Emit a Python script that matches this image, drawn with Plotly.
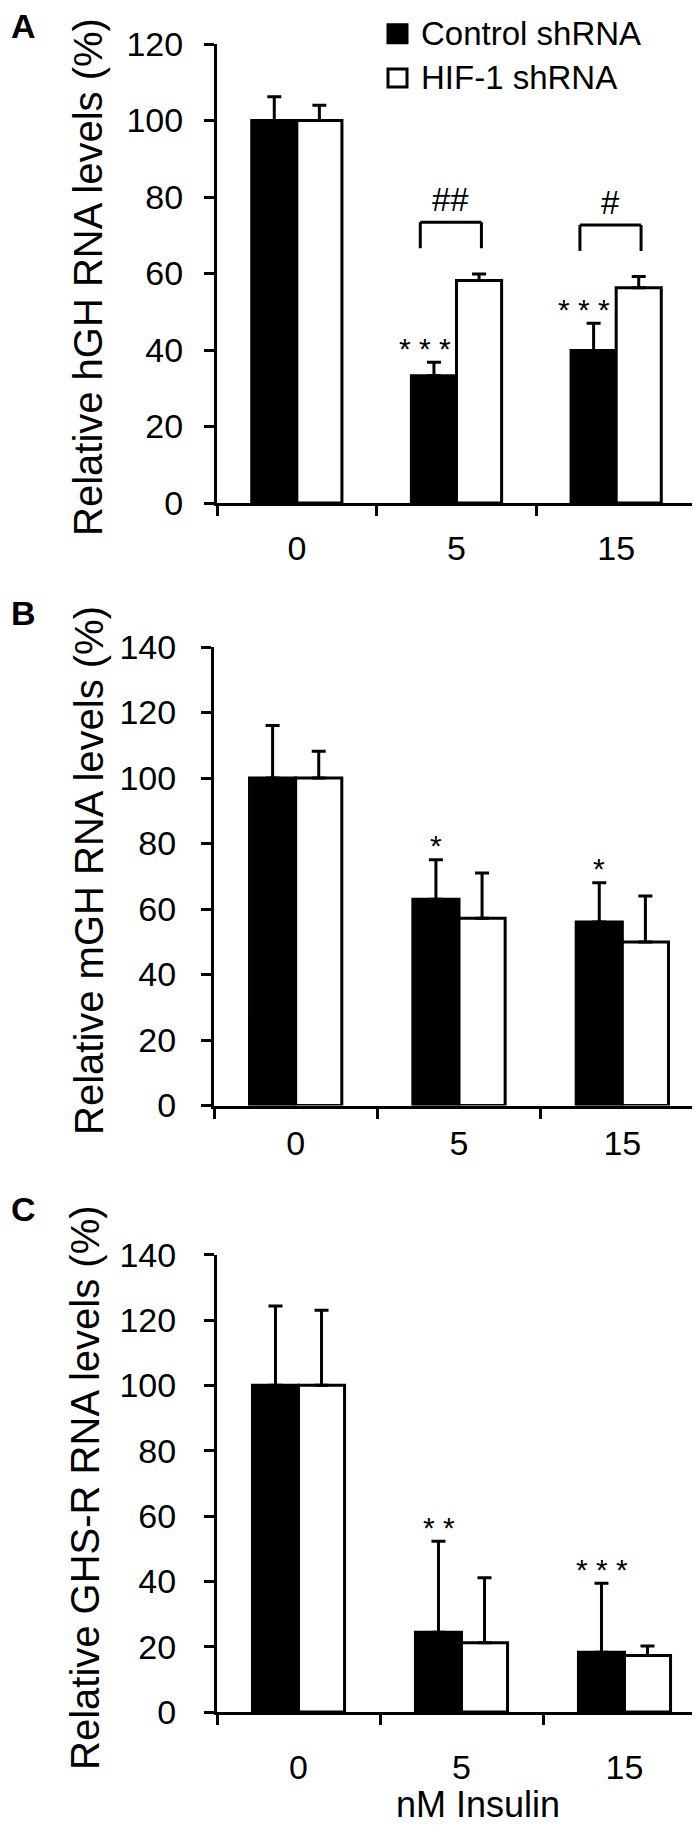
import plotly.graph_objects as go

# ---------------- data ----------------
doses = ["0", "5", "15"]
series_names = ["Control shRNA", "HIF-1 shRNA"]

hgh_control = [100, 33.3, 39.9]
hgh_control_err = [6.2, 3.5, 7.1]
hgh_hif = [100, 58.2, 56.3]
hgh_hif_err = [4.0, 1.7, 2.9]

mgh_control = [100, 63.0, 56.0]
mgh_control_err = [16.0, 12.0, 12.0]
mgh_hif = [100, 57.2, 49.9]
mgh_hif_err = [8.2, 13.8, 14.1]

ghsr_control = [100, 24.4, 18.3]
ghsr_control_err = [24.3, 27.9, 21.1]
ghsr_hif = [100, 21.2, 17.3]
ghsr_hif_err = [23.0, 19.9, 2.9]

hgh_stars = ["", "***", "***"]
hgh_hash = ["", "##", "#"]
mgh_stars = ["", "*", "*"]
ghsr_stars = ["", "**", "***"]

y_titles = ["Relative hGH RNA levels (%)",
            "Relative mGH RNA levels (%)",
            "Relative GHS-R RNA levels (%)"]
panel_letters = ["A", "B", "C"]
x_title = "nM Insulin"

# ---------------- layout constants ----------------
W, H = 700, 1825
FONT = "Arial, Liberation Sans, sans-serif"

panels = [
    dict(ctrl=hgh_control, ctrl_err=hgh_control_err, hif=hgh_hif, hif_err=hgh_hif_err,
         stars=hgh_stars, hashes=hgh_hash, ymax=120, xpx=(209, 688), ypx=(36, 495),
         title_x=80, title_y=269, letter_y=18, star_dx=-0.2, xlab_off=13, ylab_off=14),
    dict(ctrl=mgh_control, ctrl_err=mgh_control_err, hif=mgh_hif, hif_err=mgh_hif_err,
         stars=mgh_stars, hashes=None, ymax=140, xpx=(206, 696), ypx=(639, 1097.5),
         title_x=81, title_y=863, letter_y=605, star_dx=-0.14, xlab_off=6, ylab_off=18),
    dict(ctrl=ghsr_control, ctrl_err=ghsr_control_err, hif=ghsr_hif, hif_err=ghsr_hif_err,
         stars=ghsr_stars, hashes=None, ymax=140, xpx=(209, 698), ypx=(1246.7, 1704),
         title_x=77, title_y=1480, letter_y=1201, star_dx=-0.14, xlab_off=23, ylab_off=21),
]

BARGAP = 0.435

fig = go.Figure()
shapes = []
annotations = []


def px_x(p):
    return p / W


def px_y(p):
    return 1 - p / H


for i, pn in enumerate(panels):
    sfx = "" if i == 0 else str(i + 1)
    xa, ya = "x" + sfx, "y" + sfx
    for name, vals, errs, col in [(series_names[0], pn["ctrl"], pn["ctrl_err"], "black"),
                                  (series_names[1], pn["hif"], pn["hif_err"], "white")]:
        fig.add_trace(go.Bar(
            x=doses, y=vals, name=name, showlegend=False,
            marker=dict(color=col, line=dict(color="black", width=3)),
            error_y=dict(type="data", symmetric=False, array=errs,
                         arrayminus=[0] * len(errs), color="black",
                         thickness=3, width=7),
            xaxis=xa, yaxis=ya,
        ))
    xdom = [px_x(pn["xpx"][0]), px_x(pn["xpx"][1])]
    ydom = [px_y(pn["ypx"][1]), px_y(pn["ypx"][0])]
    axis_common = dict(showline=True, linecolor="black", linewidth=3, ticks="outside",
                       ticklen=10, tickwidth=3, tickcolor="black", showgrid=False,
                       zeroline=False, automargin=False,
                       tickfont=dict(family=FONT, size=34, color="black"))
    fig.update_layout(**{
        "xaxis" + sfx: dict(axis_common, domain=xdom, type="category", tickson="boundaries",
                            anchor=ya, ticklabelstandoff=pn["xlab_off"]),
        "yaxis" + sfx: dict(axis_common, domain=ydom, range=[0, pn["ymax"]],
                            tickmode="linear", tick0=0, dtick=20, anchor=xa,
                            ticklabelstandoff=pn["ylab_off"]),
    })

    # significance stars above control bars
    for j, s in enumerate(pn["stars"]):
        if s:
            annotations.append(dict(
                x=j + pn["star_dx"], y=pn["ctrl"][j] + pn["ctrl_err"][j], xref=xa, yref=ya,
                text=" ".join(s), showarrow=False, yanchor="middle", yshift=14,
                font=dict(family=FONT, size=30, color="black")))
    # brackets with hash marks
    if pn["hashes"]:
        for j, h in enumerate(pn["hashes"]):
            if h:
                top = pn["hif"][j] + pn["hif_err"][j] + 13.5
                x0, x1 = j - 0.227, j + 0.156
                line = dict(color="black", width=3)
                shapes.append(dict(type="line", xref=xa, yref=ya, x0=x0, x1=x1, y0=top, y1=top, line=line))
                shapes.append(dict(type="line", xref=xa, yref=ya, x0=x0, x1=x0, y0=top, y1=top - 6.8, line=line))
                shapes.append(dict(type="line", xref=xa, yref=ya, x0=x1, x1=x1, y0=top, y1=top - 6.8, line=line))
                annotations.append(dict(
                    x=(x0 + x1) / 2, y=top, xref=xa, yref=ya, text=h, showarrow=False,
                    yanchor="bottom", yshift=2,
                    font=dict(family=FONT, size=33, color="black")))

    # y axis title
    annotations.append(dict(
        x=px_x(pn["title_x"]), y=px_y(pn["title_y"]), xref="paper", yref="paper",
        text=y_titles[i], textangle=-90, showarrow=False, xanchor="center", yanchor="middle",
        font=dict(family=FONT, size=40, color="black")))
    # panel letter
    annotations.append(dict(
        x=px_x(1), y=px_y(pn["letter_y"]), xref="paper", yref="paper",
        text="<b>" + panel_letters[i] + "</b>", showarrow=False, xanchor="left", yanchor="middle",
        font=dict(family=FONT, size=34, color="black")))

# legend (drawn manually to match the large swatches)
legend_rows = [(25.7, "black"), (70.0, "white")]
for (yc, col), name in zip(legend_rows, series_names):
    shapes.append(dict(type="rect", xref="paper", yref="paper",
                       x0=px_x(380), x1=px_x(399), y0=px_y(yc - 9), y1=px_y(yc + 9),
                       fillcolor=col, line=dict(color="black", width=3)))
    annotations.append(dict(
        x=px_x(411), y=px_y(yc), xref="paper", yref="paper", text=name, showarrow=False,
        xanchor="left", yanchor="middle", font=dict(family=FONT, size=33, color="black")))

# x axis title (sits near the bottom edge, as in the reference)
annotations.append(dict(
    x=px_x(470), y=px_y(1819), xref="paper", yref="paper", text=x_title, showarrow=False,
    xanchor="center", yanchor="bottom", font=dict(family=FONT, size=36, color="black")))

fig.update_layout(
    width=W, height=H, margin=dict(l=0, r=0, t=0, b=0),
    paper_bgcolor="white", plot_bgcolor="white",
    barmode="group", bargap=BARGAP, bargroupgap=0,
    shapes=shapes, annotations=annotations, showlegend=False,
)

fig.write_html("out.html")
